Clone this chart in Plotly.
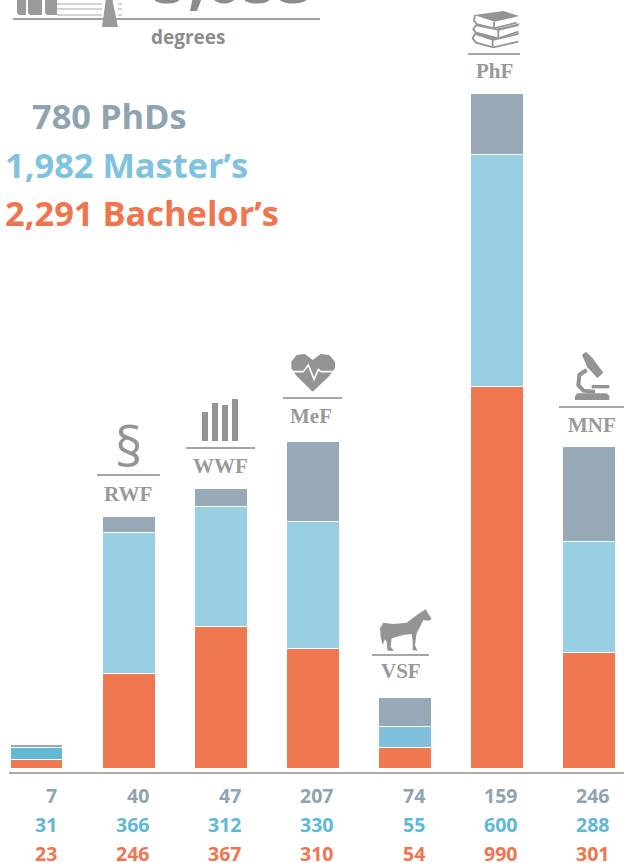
import plotly.graph_objects as go

faculties = ["ThF", "RWF", "WWF", "MeF", "VSF", "PhF", "MNF"]
phds = [7, 40, 47, 207, 74, 159, 246]
masters = [31, 366, 312, 330, 55, 600, 288]
bachelors = [23, 246, 367, 310, 54, 990, 301]
phd_colors = ["#97a9b6"] * 7
master_colors = ["#62b9d6", "#99cfe3", "#99cfe3", "#99cfe3", "#80c0da", "#99cfe3", "#99cfe3"]
bachelor_colors = ["#ef7850"] * 7
legend_rows = [("780 PhDs", "#8fa3b0", 32, 116), ("1,982 Master’s", "#7fc3df", 5, 164), ("2,291 Bachelor’s", "#f0754e", 5, 212)]
W, H = 624, 863
GREY = "#949494"

def fx(x): return x / W
def fy(y): return 1 - y / H
def poly(pts, close=True):
    s = "M " + " L ".join(f"{fx(x):.5f},{fy(y):.5f}" for x, y in pts)
    return s + (" Z" if close else "")
def zoom(pts, ox, oy):
    return [(ox + x / 3, oy + y / 3) for x, y in pts]

fig = go.Figure()
for name, vals, cols in [("Bachelor", bachelors, bachelor_colors), ("Master", masters, master_colors), ("PhD", phds, phd_colors)]:
    fig.add_bar(x=list(range(7)), y=vals, name=name, width=0.575,
                marker=dict(color=cols, line=dict(color="white", width=1.5)), hoverinfo="skip")

shapes, anns = [], []
def line(x0, y0, x1, y1, w=2, c="#a6a6a6"):
    shapes.append(dict(type="line", xref="paper", yref="paper", x0=fx(x0), x1=fx(x1), y0=fy(y0), y1=fy(y1), line=dict(color=c, width=w)))
def fill(pts, c=GREY):
    shapes.append(dict(type="path", xref="paper", yref="paper", path=poly(pts), fillcolor=c, line=dict(width=0)))
def stroke(pts, w=1.6, c=GREY):
    shapes.append(dict(type="path", xref="paper", yref="paper", path=poly(pts, False), line=dict(color=c, width=w)))
def text(t, x, y, size, color, family="Open Sans", bold=True, xanchor="center", yanchor="middle"):
    anns.append(dict(text=f"<b>{t}</b>" if bold else t, xref="paper", yref="paper", x=fx(x), y=fy(y), xanchor=xanchor, yanchor=yanchor,
                     showarrow=False, font=dict(size=size, color=color, family=family), borderpad=0, borderwidth=0))

# axis rule and header
line(9, 773, 624, 773, 2, "#aaaaaa")
line(13, 19, 320, 19, 2, "#a0a0a0")
text("5,053", 233, 21, 63, "#8c8c8c", yanchor="bottom")
text("degrees", 188.5, 37, 19, "#8c8c8c")
for x0, x1 in [(17, 26), (28, 42), (45, 57)]:
    fill([(x0, -2), (x1, -2), (x1, 15), (x0 + 2, 15), (x0, 13)], "#9a9a9a")
for y in [4, 9, 15]:
    line(57, y, 102, y, 1.5, "#c4c4c4")
    line(118, y, 122, y, 1.5, "#c4c4c4")
fill([(106, -2), (112, -2), (118, 27), (102, 27)], "#9a9a9a")

for t, c, x, y in legend_rows:
    text(t, x, y, 34.4, c, xanchor="left")

# faculty labels and separators
labels = [("RWF", 128, 494, 97, 160, 475), ("WWF", 220, 466, 186, 255, 448), ("MeF", 311, 416, 283, 342, 398),
          ("VSF", 401, 671, 372, 429, 655), ("PhF", 494, 71, 468, 520, 54), ("MNF", 592, 425, 559, 624, 407)]
for t, cx, cy, x0, x1, ly in labels:
    text(t, cx, cy, 21, "#999999", family="Liberation Serif")
    line(x0, ly, x1, ly, 2)

# RWF icon
text("§", 129, 446, 54, GREY, family="Open Sans", bold=False)
# WWF icon
for x0, x1, top in [(202, 208, 412), (212, 218, 403), (222, 228, 405), (232, 238, 399)]:
    fill([(x0, top), (x1, top), (x1, 441), (x0, 441)])
# MeF icon
hz = [(668, 155), (620, 108), (604, 85), (604, 65), (620, 45), (645, 42), (668, 60), (692, 42), (718, 45), (735, 65), (735, 85), (718, 108)]
fill(zoom(hz, 90, 340))
stroke(zoom([(606, 95), (640, 95), (655, 75), (672, 118), (685, 88), (692, 95), (733, 95)], 90, 340), 1.6, "white")
# VSF icon
horse = [(215, 58), (197, 28), (175, 42), (140, 68), (100, 72), (70, 68), (60, 85), (62, 110), (68, 135), (75, 118), (80, 125), (82, 150), (88, 153),
         (102, 152), (92, 140), (95, 115), (130, 105), (155, 102), (158, 125), (158, 150), (172, 152), (165, 135), (170, 100), (180, 80), (190, 60), (205, 62)]
fill(zoom(horse, 360, 600))
# PhF icon
fill(zoom([(312, 45), (400, 33), (448, 48), (375, 65)], 370, 0))
for pts in [[(315, 45), (312, 62), (320, 72), (372, 85), (440, 68)], [(372, 65), (372, 85)],
            [(318, 75), (310, 88), (318, 98), (385, 115), (445, 95)], [(385, 88), (385, 112)],
            [(315, 100), (308, 115), (318, 128), (370, 142), (445, 125)], [(368, 118), (368, 140)]]:
    stroke(zoom(pts, 370, 0), 1.8)
fill(zoom([(318, 72), (372, 88), (450, 70), (445, 78), (385, 92), (318, 78)], 370, 0))
fill(zoom([(318, 98), (385, 115), (448, 98), (445, 104), (370, 122), (315, 104)], 370, 0))
# MNF icon
fill(zoom([(636, 45), (648, 35), (668, 55), (700, 98), (682, 114), (652, 82)], 370, 340))
stroke(zoom([(650, 90), (628, 105), (625, 135), (640, 152), (675, 155)], 370, 340), 4)
fill(zoom([(665, 135), (718, 135), (718, 145), (665, 145)], 370, 340))
fill(zoom([(622, 160), (710, 160), (718, 168), (718, 180), (615, 180), (615, 168)], 370, 340))

# data table
for vals, c, y in [(phds, "#8fa3b0", 795), (masters, "#5fb8d6", 824), (bachelors, "#f0754e", 853)]:
    for i, v in enumerate(vals):
        anns.append(dict(text=f"<b>{v}</b>", xref="x", yref="paper", x=i + 0.235, y=fy(y), xanchor="right", yanchor="middle",
                         showarrow=False, font=dict(size=19.5, color=c, family="Open Sans")))

PX = 0.386
X0, Y0 = 37, 769
fig.update_layout(width=W, height=H, margin=dict(l=0, r=0, t=0, b=0), barmode="stack", bargap=0, showlegend=False,
                  paper_bgcolor="white", plot_bgcolor="white", shapes=shapes, annotations=anns,
                  xaxis=dict(range=[-X0 / 92.1, (W - X0) / 92.1], visible=False),
                  yaxis=dict(range=[-(H - Y0) / PX, Y0 / PX], visible=False))
fig.write_html("out.html", config=dict(displayModeBar=False),
               post_script="document.body.style.margin='0';document.body.style.overflow='hidden';")
